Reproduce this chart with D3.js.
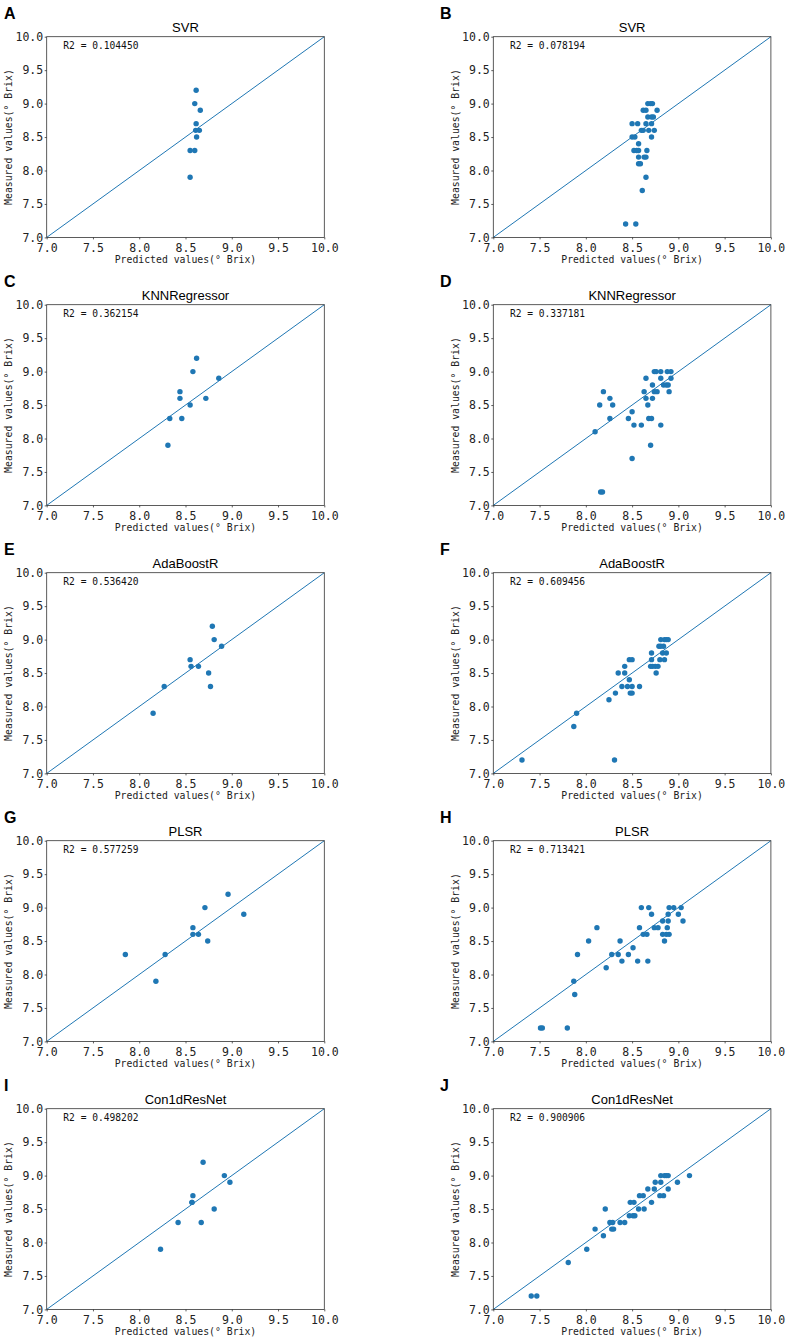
<!DOCTYPE html>
<html lang="en">
<head>
<meta charset="utf-8">
<script src="https://d3js.org/d3.v7.min.js"></script>
<style>
  body { margin: 0; background: #fff; }
</style>
</head>
<body>
<script>
// panel labels, models and scores
var panelLetters = ["A", "B", "C", "D", "E", "F", "G", "H", "I", "J"];
var modelNames = ["SVR", "KNNRegressor", "AdaBoostR", "PLSR", "Con1dResNet"];
var r2Left = ["0.104450", "0.362154", "0.536420", "0.577259", "0.498202"];
var r2Right = ["0.078194", "0.337181", "0.609456", "0.713421", "0.900906"];
var axisTicks = [7.0, 7.5, 8.0, 8.5, 9.0, 9.5, 10.0];

// left column: measured values (same samples in every left panel)
var leftMeas = [9.2, 9.0, 8.9, 8.7, 8.6, 8.6, 8.5, 8.3, 8.3, 7.9];
var svrPredL = [8.615, 8.60, 8.66, 8.615, 8.61, 8.65, 8.62, 8.55, 8.60, 8.55];
var knnPredL = [8.62, 8.58, 8.86, 8.44, 8.44, 8.72, 8.55, 8.33, 8.46, 8.31];
var adaPredL = [8.79, 8.81, 8.89, 8.55, 8.56, 8.64, 8.75, 8.27, 8.77, 8.15];
var plsPredL = [8.96, 8.71, 9.13, 8.58, 8.58, 8.64, 8.74, 7.85, 8.28, 8.18];
var resPredL = [8.69, 8.92, 8.98, 8.58, 8.57, 8.57, 8.81, 8.42, 8.67, 8.23];

// right column
var svrPredR = [8.43, 8.54, 8.61, 8.65, 8.57, 8.59, 8.57, 8.63, 8.65, 8.52, 8.55, 8.57, 8.66, 8.57,
  8.50, 8.53, 8.71, 8.60, 8.62, 8.68, 8.74, 8.50, 8.56, 8.65, 8.71, 8.67, 8.71, 8.73,
  8.62, 8.65, 8.77, 8.67, 8.70, 8.72];
var svrMeasR = [7.2, 7.2, 7.7, 7.9, 8.1, 8.1, 8.2, 8.2, 8.2, 8.3, 8.3, 8.3, 8.3, 8.4,
  8.5, 8.5, 8.5, 8.6, 8.6, 8.6, 8.6, 8.7, 8.7, 8.7, 8.7, 8.8, 8.8, 8.8,
  8.9, 8.9, 8.9, 9.0, 9.0, 9.0];

var knnPredR = [8.16, 8.18, 8.50, 8.70, 8.10, 8.52, 8.60, 8.81, 8.26, 8.46, 8.68, 8.71, 8.50,
  8.15, 8.29, 8.67, 8.26, 8.65, 8.72, 8.19, 8.63, 8.74, 8.77, 8.90, 8.72, 8.84, 8.87, 8.89,
  8.65, 8.81, 8.92, 8.74, 8.76, 8.81, 8.88, 8.92];
var knnMeasR = [7.2, 7.2, 7.7, 7.9, 8.1, 8.2, 8.2, 8.2, 8.3, 8.3, 8.3, 8.3, 8.4,
  8.5, 8.5, 8.5, 8.6, 8.6, 8.6, 8.7, 8.7, 8.7, 8.7, 8.7, 8.8, 8.8, 8.8, 8.8,
  8.9, 8.9, 8.9, 9.0, 9.0, 9.0, 9.0, 9.0];

var adaPredR = [7.31, 8.31, 7.87, 7.90, 8.25, 8.32, 8.48, 8.50, 8.39, 8.45, 8.50, 8.58, 8.47,
  8.35, 8.42, 8.76, 8.42, 8.70, 8.72, 8.75, 8.78, 8.47, 8.50, 8.71, 8.80, 8.85,
  8.71, 8.83, 8.87, 8.79, 8.81, 8.84, 8.81, 8.85, 8.87, 8.89];
var adaMeasR = [7.2, 7.2, 7.7, 7.9, 8.1, 8.2, 8.2, 8.2, 8.3, 8.3, 8.3, 8.3, 8.4,
  8.5, 8.5, 8.5, 8.6, 8.6, 8.6, 8.6, 8.6, 8.7, 8.7, 8.7, 8.7, 8.7,
  8.8, 8.8, 8.8, 8.9, 8.9, 8.9, 9.0, 9.0, 9.0, 9.0];

var plsPredR = [7.51, 7.53, 7.80, 7.88, 7.87, 8.22, 8.39, 8.56, 8.67, 7.91, 8.28, 8.35, 8.46, 8.51,
  8.03, 8.37, 8.85, 8.62, 8.66, 8.83, 8.87, 8.90, 8.12, 8.58, 8.74, 8.78, 8.88,
  8.83, 8.89, 9.05, 8.71, 8.89, 9.00, 8.60, 8.68, 8.90, 8.95, 9.03];
var plsMeasR = [7.2, 7.2, 7.2, 7.7, 7.9, 8.1, 8.2, 8.2, 8.2, 8.3, 8.3, 8.3, 8.3, 8.4,
  8.5, 8.5, 8.5, 8.6, 8.6, 8.6, 8.6, 8.6, 8.7, 8.7, 8.7, 8.7, 8.7,
  8.8, 8.8, 8.8, 8.9, 8.9, 8.9, 9.0, 9.0, 9.0, 9.0, 9.0];

var resPredR = [7.41, 7.47, 7.81, 8.01, 8.19, 8.10, 8.28, 8.30, 8.26, 8.29, 8.37, 8.42,
  8.47, 8.51, 8.53, 8.21, 8.57, 8.63, 8.48, 8.52, 8.71, 8.58, 8.62, 8.80, 8.84,
  8.67, 8.74, 8.89, 8.75, 8.81, 8.99, 8.81, 8.85, 8.87, 8.89, 9.12];
var resMeasR = [7.2, 7.2, 7.7, 7.9, 8.1, 8.2, 8.2, 8.2, 8.3, 8.3, 8.3, 8.3,
  8.4, 8.4, 8.4, 8.5, 8.5, 8.5, 8.6, 8.6, 8.6, 8.7, 8.7, 8.7, 8.7,
  8.8, 8.8, 8.8, 8.9, 8.9, 8.9, 9.0, 9.0, 9.0, 9.0, 9.0];

var predLeft = [svrPredL, knnPredL, adaPredL, plsPredL, resPredL];
var predRight = [svrPredR, knnPredR, adaPredR, plsPredR, resPredR];
var measRight = [svrMeasR, knnMeasR, adaMeasR, plsMeasR, resMeasR];

var blue = "#1f77b4";
var monoFont = "'DejaVu Sans Mono', monospace";

var width = 787, height = 1339;
var colX = [46.7, 493.3];
var plotW = 277.6, plotH = 200.7;
var rowTop = 36.7, rowStep = 268;

var svg = d3.select("body").append("svg")
    .attr("width", width)
    .attr("height", height);

svg.append("rect")
   .attr("width", width)
   .attr("height", height)
   .attr("fill", "#fff");

var x = d3.scaleLinear().domain([7, 10]).range([0, plotW]);
var y = d3.scaleLinear().domain([7, 10]).range([plotH, 0]);

function drawPanel(row, col) {
    var idx = row * 2 + col;
    var px = colX[col], py = rowTop + row * rowStep;
    var pred = col === 0 ? predLeft[row] : predRight[row];
    var meas = col === 0 ? leftMeas : measRight[row];
    var pts = pred.map(function(d, i) { return [d, meas[i]]; });

    var g = svg.append("g").attr("transform", "translate(" + px + "," + py + ")");

    // panel letter
    svg.append("text")
       .attr("x", col === 0 ? 4 : 440)
       .attr("y", py - 17.5)
       .attr("font-family", "'Liberation Sans', Arial, sans-serif")
       .attr("font-weight", "bold")
       .attr("font-size", 16)
       .text(panelLetters[idx]);

    // title
    g.append("text")
       .attr("x", plotW / 2)
       .attr("y", -5)
       .attr("text-anchor", "middle")
       .attr("font-family", "'Liberation Sans', Arial, sans-serif")
       .attr("font-size", 13)
       .text(modelNames[row]);

    // axes
    var xAxis = d3.axisBottom(x).tickValues(axisTicks).tickFormat(d3.format(".1f"))
        .tickSize(2).tickPadding(4);
    var yAxis = d3.axisLeft(y).tickValues(axisTicks).tickFormat(d3.format(".1f"))
        .tickSize(2).tickPadding(1.5);

    var gx = g.append("g").attr("transform", "translate(0," + plotH + ")").call(xAxis);
    var gy = g.append("g").call(yAxis);
    [gx, gy].forEach(function(a) {
        a.select(".domain").remove();
        a.selectAll("line").attr("stroke", "#333").attr("stroke-width", 0.8);
        a.selectAll("text")
         .attr("font-family", monoFont)
         .attr("font-size", 11.5)
         .attr("fill", "#222");
    });

    // diagonal reference line
    g.append("line")
       .attr("x1", x(7)).attr("y1", y(7))
       .attr("x2", x(10)).attr("y2", y(10))
       .attr("stroke", blue)
       .attr("stroke-width", 1);

    // scatter
    g.selectAll("circle.pt")
       .data(pts)
       .enter().append("circle")
       .attr("class", "pt")
       .attr("cx", function(d) { return x(d[0]); })
       .attr("cy", function(d) { return y(d[1]); })
       .attr("r", 2.7)
       .attr("fill", blue);

    // frame
    g.append("rect")
       .attr("width", plotW)
       .attr("height", plotH)
       .attr("fill", "none")
       .attr("stroke", "#333")
       .attr("stroke-width", 0.8);

    // R2 note
    g.append("text")
       .attr("x", x(7.18))
       .attr("y", y(9.81))
       .attr("font-family", monoFont)
       .attr("font-size", 9.6)
       .attr("fill", "#111")
       .text("R2 = " + (col === 0 ? r2Left[row] : r2Right[row]));

    // axis labels
    g.append("text")
       .attr("x", plotW / 2)
       .attr("y", plotH + 26)
       .attr("text-anchor", "middle")
       .attr("font-family", monoFont)
       .attr("font-size", 9.8)
       .attr("fill", "#222")
       .text("Predicted values(° Brix)");

    g.append("text")
       .attr("transform", "translate(" + (-34.5) + "," + (plotH / 2) + ") rotate(-90)")
       .attr("text-anchor", "middle")
       .attr("font-family", monoFont)
       .attr("font-size", 9.8)
       .attr("fill", "#222")
       .text("Measured values(° Brix)");
}

for (var r = 0; r < 5; r++) {
    drawPanel(r, 0);
    drawPanel(r, 1);
}
</script>
</body>
</html>
